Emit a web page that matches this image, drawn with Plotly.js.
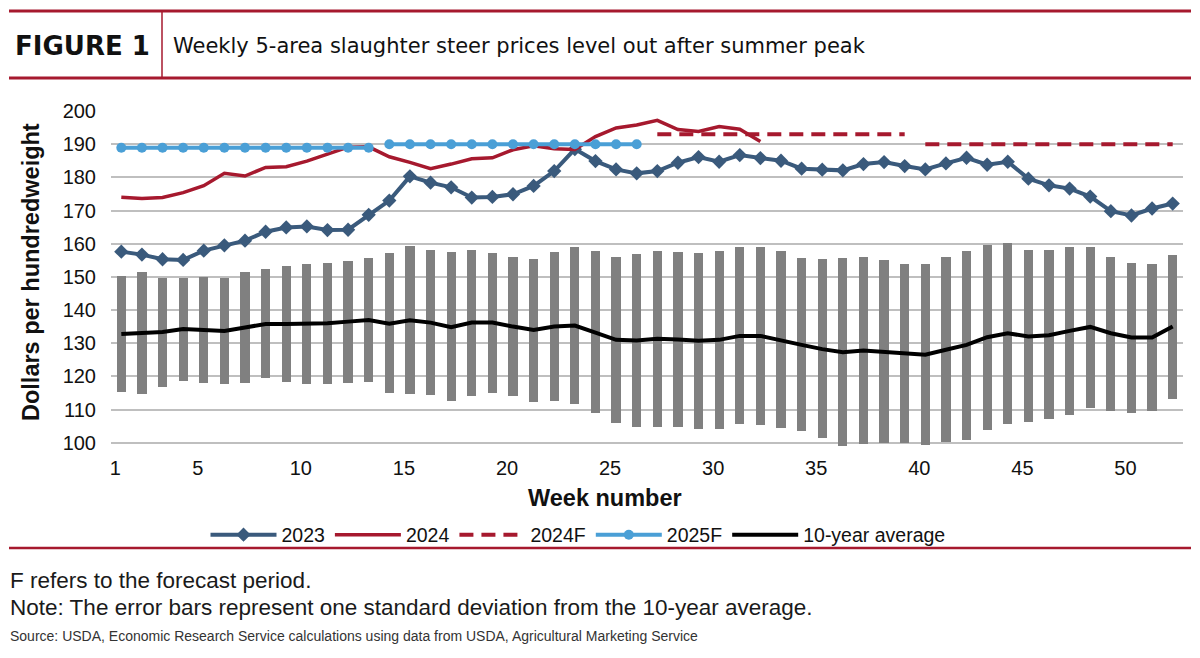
<!DOCTYPE html>
<html>
<head>
<meta charset="utf-8">
<script src="https://cdn.plot.ly/plotly-3.0.1.min.js"></script>
<style>
  html, body { margin: 0; padding: 0; background: #ffffff; }
  #chart { width: 1200px; height: 658px; }
</style>
</head>
<body>
<div id="chart"></div>
<script>
// ---- Data ----
const weeks = [1,2,3,4,5,6,7,8,9,10,11,12,13,14,15,16,17,18,19,20,21,22,23,24,25,26,
               27,28,29,30,31,32,33,34,35,36,37,38,39,40,41,42,43,44,45,46,47,48,49,50,51,52];

const prices2023 = [157.6,156.7,155.3,155.1,157.9,159.5,160.9,163.6,164.9,165.2,
                    164.1,164.2,168.7,173.0,180.3,178.4,177.0,173.9,174.1,174.9,
                    177.4,181.9,188.5,184.9,182.4,181.2,181.9,184.4,186.1,184.7,
                    186.7,185.8,185.0,182.6,182.3,182.1,184.0,184.6,183.4,182.4,
                    184.2,185.9,183.8,184.7,179.6,177.6,176.6,174.2,169.8,168.5,
                    170.6,172.1];

const weeks2024 = [1,2,3,4,5,6,7,8,9,10,11,12,13,14,15,16,17,18,19,20,21,22,23,24,25,26,27,28,29,30,31,32];
const prices2024 = [174.0,173.6,173.9,175.4,177.5,181.2,180.4,183.0,183.2,184.9,
                    187.0,189.1,189.2,186.2,184.5,182.6,184.0,185.6,185.9,188.3,
                    189.5,188.6,188.4,192.3,194.9,195.8,197.2,194.4,193.8,195.3,
                    194.5,190.8];

// 2024 forecast: two quarterly segments separated by a gap (null)
const weeks2024F  = [27,28,29,30,31,32,33,34,35,36,37,38,39,null,40,41,42,43,44,45,46,47,48,49,50,51,52];
const prices2024F = [193,193,193,193,193,193,193,193,193,193,193,193,193,null,190,190,190,190,190,190,190,190,190,190,190,190,190];

// 2025 forecast: two quarterly segments separated by a gap (null)
const weeks2025F  = [1,2,3,4,5,6,7,8,9,10,11,12,13,null,14,15,16,17,18,19,20,21,22,23,24,25,26];
const prices2025F = [188.9,188.9,188.9,188.9,188.9,188.9,188.9,188.9,188.9,188.9,188.9,188.9,188.9,null,
                     190,190,190,190,190,190,190,190,190,190,190,190,190];

const avg10yr = [132.8,133.0,133.4,134.3,134.1,133.7,134.7,135.8,135.8,135.8,
                 136.0,136.5,137.0,135.9,136.9,136.2,134.8,136.2,136.2,135.0,
                 134.0,135.0,135.3,133.2,131.0,130.8,131.3,131.1,130.7,131.0,
                 132.2,132.2,130.7,129.5,128.2,127.3,127.8,127.4,126.7,126.5,
                 128.0,129.5,131.8,133.0,132.0,132.4,133.7,134.9,133.0,131.7,
                 131.7,135.0];

// one standard deviation band around the 10-year average (top / bottom of grey bars)
const sdHigh = [150.3,151.5,149.8,149.8,150.1,149.8,151.5,152.5,153.3,153.8,
                154.3,154.8,155.8,157.1,159.3,158.0,157.6,158.2,157.3,155.9,
                155.5,157.4,159.1,157.8,156.0,156.8,157.7,157.6,157.3,157.9,
                159.0,159.0,157.9,155.6,155.3,155.7,156.0,155.0,153.8,153.8,
                156.0,157.9,159.5,160.1,158.1,158.0,159.0,159.0,156.1,154.3,
                153.9,156.5];
const sdLow  = [115.3,114.8,116.9,118.6,118.0,117.6,117.9,119.4,118.2,117.7,
                117.6,118.0,118.3,115.1,114.6,114.3,112.7,114.2,115.0,114.2,
                112.3,112.7,111.7,108.9,105.8,104.8,104.8,104.7,104.1,104.2,
                105.5,105.4,104.3,103.6,101.4,99.1,99.6,99.8,99.9,99.3,
                100.2,100.9,103.7,105.7,106.1,107.0,108.4,110.6,109.6,109.0,
                109.6,113.3];

const xTickVals = [1,5,10,15,20,25,30,35,40,45,50];
const xTickText = ["1","5","10","15","20","25","30","35","40","45","50"];
const yTickVals = [100,110,120,130,140,150,160,170,180,190,200];

// ---- Layout helpers (pixel -> paper coords) ----
const PL = 111, PR = 1183, PT = 111, PB = 446;
const X = px => (px - PL) / (PR - PL);
const Y = py => (PB - py) / (PB - PT);

const SANS = '"Liberation Sans", Arial, Helvetica, sans-serif';
const RED = '#a6192e';

const traces = [
  {
    type: 'bar', x: weeks,
    y: sdHigh.map((h, i) => h - sdLow[i]),
    base: sdLow,
    width: 0.45,
    marker: { color: '#808080', line: { width: 0 } },
    showlegend: false, hoverinfo: 'skip', name: 'SD'
  },
  {
    type: 'scatter', mode: 'lines+markers', name: '2023',
    x: weeks, y: prices2023,
    line: { color: '#3a5a7c', width: 4 },
    marker: { symbol: 'diamond', size: 11, color: '#3a5a7c' }
  },
  {
    type: 'scatter', mode: 'lines', name: '2024',
    x: weeks2024, y: prices2024,
    line: { color: RED, width: 3.5 }
  },
  {
    type: 'scatter', mode: 'lines', name: '2024F',
    x: weeks2024F, y: prices2024F, connectgaps: false,
    line: { color: RED, width: 4, dash: '14px,8px' }
  },
  {
    type: 'scatter', mode: 'lines+markers', name: '2025F',
    x: weeks2025F, y: prices2025F, connectgaps: false,
    line: { color: '#4a9fd6', width: 4 },
    marker: { symbol: 'circle', size: 10, color: '#4a9fd6' }
  },
  {
    type: 'scatter', mode: 'lines', name: '10-year average',
    x: weeks, y: avg10yr,
    line: { color: '#000000', width: 4 }
  }
];

const hline = (y, x0, x1, w) => ({
  type: 'line', xref: 'paper', yref: 'paper',
  x0: X(x0), x1: X(x1), y0: Y(y), y1: Y(y),
  line: { color: RED, width: w }
});

const note = (text, x, y, size, font, color, extra) => Object.assign({
  text: text, xref: 'paper', yref: 'paper', x: X(x), y: Y(y),
  xanchor: 'left', yanchor: 'middle', showarrow: false,
  font: { family: font, size: size, color: color }
}, extra || {});

const layout = {
  width: 1200, height: 658,
  margin: { l: PL, r: 1200 - PR, t: PT, b: 658 - PB, pad: 0 },
  paper_bgcolor: '#ffffff', plot_bgcolor: '#ffffff',
  showlegend: true,
  hovermode: false,
  bargap: 0,
  xaxis: {
    range: [0.5, 52.5], tickmode: 'array', tickvals: xTickVals, ticktext: xTickText,
    showgrid: false, zeroline: false, showline: false, ticks: '',
    ticklabelstandoff: 8, ticklabelshift: -6,
    tickfont: { family: SANS, size: 20, color: '#111111' }
  },
  yaxis: {
    range: [99, 200], tickmode: 'array', tickvals: yTickVals,
    showgrid: true, gridcolor: '#bfbfbf', gridwidth: 2,
    zeroline: false, showline: false, ticks: '',
    ticklabelstandoff: 14,
    tickfont: { family: SANS, size: 20, color: '#111111' }
  },
  legend: {
    orientation: 'h', x: X(578), xanchor: 'center', y: Y(535), yanchor: 'middle',
    font: { family: SANS, size: 19.5, color: '#111111' },
    itemwidth: 66,
    bgcolor: 'rgba(0,0,0,0)', traceorder: 'normal'
  },
  shapes: [
    hline(11, 9, 1191, 3),
    hline(78, 9, 1191, 3),
    { type: 'line', xref: 'paper', yref: 'paper', x0: X(162), x1: X(162), y0: Y(11), y1: Y(78),
      line: { color: RED, width: 1.5 } },
    hline(548, 9, 1191, 2.5)
  ],
  annotations: [
    note('<b>FIGURE 1</b>', 13, 46, 26, '"DejaVu Sans", sans-serif', '#111111'),
    note('Weekly 5-area slaughter steer prices level out after summer peak', 171, 46, 21, '"DejaVu Sans", sans-serif', '#111111'),
    note('<b>Dollars per hundredweight</b>', 31, 272, 23.5, SANS, '#111111',
         { xanchor: 'center', textangle: -90 }),
    note('<b>Week number</b>', 605, 498, 23.5, SANS, '#111111', { xanchor: 'center' }),
    note('F refers to the forecast period.', 8, 580, 22.5, SANS, '#1a1a1a'),
    note('Note: The error bars represent one standard deviation from the 10-year average.', 8, 607, 22.5, SANS, '#1a1a1a'),
    note('Source: USDA, Economic Research Service calculations using data from USDA, Agricultural Marketing Service', 8, 636, 14, SANS, '#333333')
  ]
};

Plotly.newPlot('chart', traces, layout, { displayModeBar: false, staticPlot: true });
</script>
</body>
</html>
